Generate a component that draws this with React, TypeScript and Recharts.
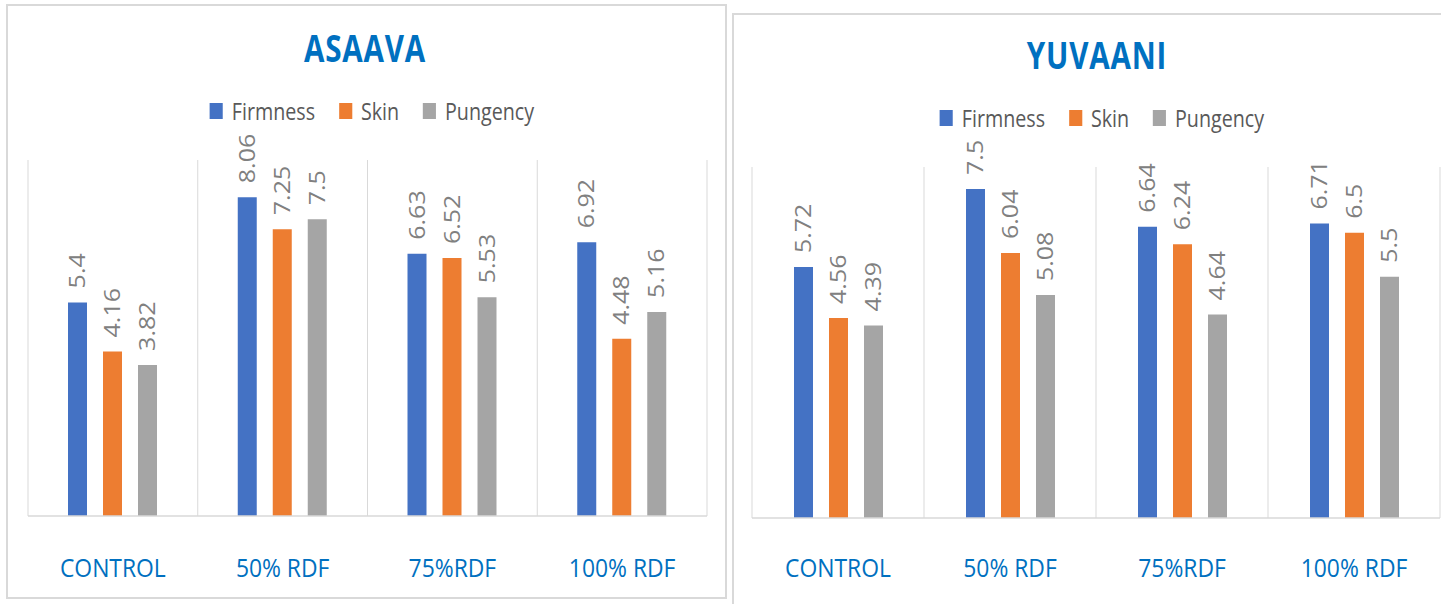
import React from 'react';
import { BarChart, Bar, XAxis, YAxis, CartesianGrid, Legend, LabelList } from 'recharts';

const categories = ['CONTROL', '50% RDF', '75%RDF', '100% RDF'];
const seriesNames = ['Firmness', 'Skin', 'Pungency'];
const seriesColors = ['#4472C4', '#ED7D31', '#A5A5A5'];

const asaavaFirmness = [5.4, 8.06, 6.63, 6.92];
const asaavaSkin = [4.16, 7.25, 6.52, 4.48];
const asaavaPungency = [3.82, 7.5, 5.53, 5.16];

const yuvaaniFirmness = [5.72, 7.5, 6.64, 6.71];
const yuvaaniSkin = [4.56, 6.04, 6.24, 6.5];
const yuvaaniPungency = [4.39, 5.08, 4.64, 5.5];

const FONT = '"Open Sans", "Noto Sans", sans-serif';

function buildRows(f: number[], s: number[], p: number[]) {
  return categories.map((name, i) => ({ name, Firmness: f[i], Skin: s[i], Pungency: p[i] }));
}

// rotated value label above each bar, squeezed a little like the source
const renderValue = (props: any) => {
  const { x, y, width, value } = props;
  const cx = Number(x) + Number(width) / 2;
  const top = Number(y) - 14;
  return (
    <text
      transform={`translate(${cx},${top}) scale(0.84,1) rotate(-90)`}
      x={0}
      y={9}
      fontSize={25}
      fill="#808080"
      fontFamily={FONT}
      textAnchor="start"
    >
      {value}
    </text>
  );
};

const makeTick = (off: number) => (props: any) => (
  <text
    transform={`translate(${props.x},${props.y + off}) scale(0.88,1)`}
    textAnchor="middle"
    fontSize={26}
    fill="#0070C0"
    fontFamily={FONT}
  >
    {props.payload.value}
  </text>
);

const renderLegend = (props: any) => {
  const items = [...(props.payload || [])].sort(
    (a: any, b: any) => seriesNames.indexOf(a.value) - seriesNames.indexOf(b.value)
  );
  return (
    <div style={{ display: 'flex', justifyContent: 'center' }}>
      <div style={{ display: 'flex', alignItems: 'center', transform: 'scaleX(0.82)', transformOrigin: 'center' }}>
        {items.map((it: any, i: number) => (
          <div key={it.value} style={{ display: 'flex', alignItems: 'center', marginLeft: i ? 29 : 0 }}>
            <span style={{ display: 'inline-block', width: 16, height: 16, background: it.color }} />
            <span style={{ marginLeft: 11, fontSize: 24, lineHeight: '24px', color: '#595959', fontFamily: FONT }}>
              {it.value}
            </span>
          </div>
        ))}
      </div>
    </div>
  );
};

type PanelProps = {
  title: string;
  rows: any[];
  max: number;
  left: number;
  width: number;
  margin: { top: number; right: number; bottom: number; left: number };
  titleTop: number;
  legendTop: number;
  legendWidth: number;
  tickOff: number;
};

function Panel({ title, rows, max, left, width, margin, titleTop, legendTop, legendWidth, tickOff }: PanelProps) {
  return (
    <div style={{ position: 'absolute', left, top: 0, width, height: 604 }}>
      <div
        style={{
          position: 'absolute',
          left: 0,
          top: titleTop,
          width,
          textAlign: 'center',
          fontFamily: FONT,
          fontWeight: 700,
          fontSize: 37,
          lineHeight: '37px',
          color: '#0070C0',
          transform: 'scaleX(0.8)',
          transformOrigin: 'center',
          letterSpacing: 1,
        }}
      >
        {title}
      </div>
      <BarChart width={width} height={604} data={rows} margin={margin} barSize={19} barGap={16}>
        <CartesianGrid
          stroke="#d9d9d9"
          horizontal={false}
          verticalCoordinatesGenerator={({ offset }: any) =>
            [0, 1, 2, 3, 4].map((i) => offset.left + (offset.width * i) / 4)
          }
        />
        <XAxis
          dataKey="name"
          interval={0}
          tickLine={false}
          axisLine={{ stroke: '#d9d9d9', strokeWidth: 1.5 }}
          height={60}
          tick={makeTick(tickOff)}
        />
        <YAxis hide domain={[0, max]} />
        <Legend
          layout="horizontal"
          align="center"
          verticalAlign="middle"
          wrapperStyle={{ top: legendTop, left: 0, width: legendWidth, height: 0, overflow: 'visible' }}
          content={renderLegend}
        />
        {seriesNames.map((s, i) => (
          <Bar key={s} dataKey={s} fill={seriesColors[i]} isAnimationActive={false}>
            <LabelList dataKey={s} content={renderValue} />
          </Bar>
        ))}
      </BarChart>
    </div>
  );
}

export default function App() {
  const asaava = buildRows(asaavaFirmness, asaavaSkin, asaavaPungency);
  const yuvaani = buildRows(yuvaaniFirmness, yuvaaniSkin, yuvaaniPungency);
  return (
    <div style={{ position: 'absolute', left: 0, top: 0, width: 1441, height: 604, overflow: 'hidden', background: '#fff' }}>
      <div style={{ position: 'absolute', left: 6, top: 4, width: 721, height: 595, border: '2px solid #d9d9d9', boxSizing: 'border-box' }} />
      <div style={{ position: 'absolute', left: 732, top: 13, width: 760, height: 620, border: '2px solid #d9d9d9', boxSizing: 'border-box' }} />
      <Panel
        title="ASAAVA"
        rows={asaava}
        max={9}
        left={0}
        width={730}
        margin={{ top: 160, right: 23, bottom: 28, left: 28 }}
        titleTop={29}
        legendTop={99}
        legendWidth={744}
        tickOff={53}
      />
      <Panel
        title="YUVAANI"
        rows={yuvaani}
        max={8}
        left={733}
        width={728}
        margin={{ top: 167, right: 21, bottom: 26, left: 19 }}
        titleTop={36}
        legendTop={106}
        legendWidth={738}
        tickOff={51}
      />
    </div>
  );
}
